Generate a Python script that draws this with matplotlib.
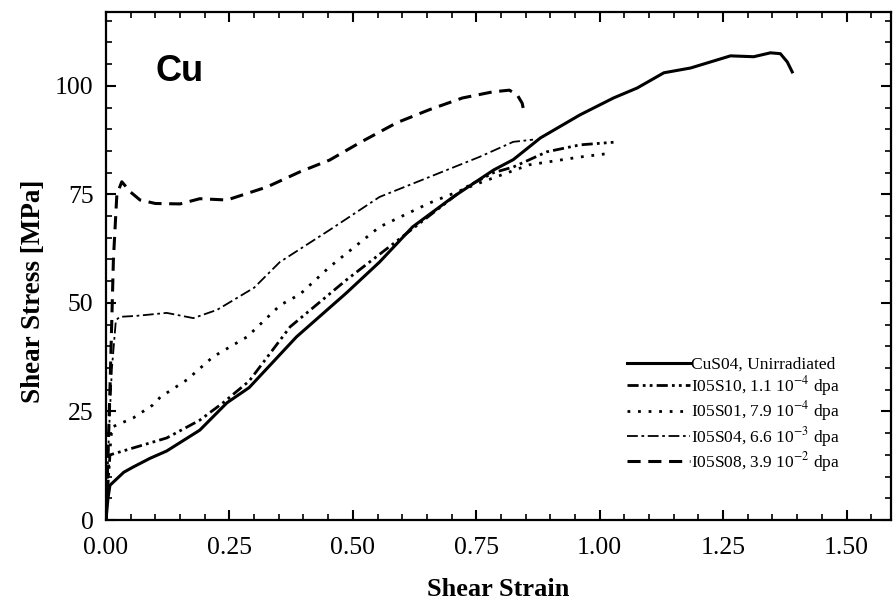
import numpy as np
import matplotlib
matplotlib.use("Agg")
import matplotlib.pyplot as plt
from matplotlib.ticker import MultipleLocator, FormatStrFormatter

plt.rcParams['font.family'] = ['Liberation Serif', 'DejaVu Serif']
plt.rcParams['mathtext.fontset'] = 'stix'

# CuS04, unirradiated
x_cu = [0, 0.004, 0.008, 0.036, 0.055, 0.089, 0.123, 0.19, 0.245, 0.29, 0.386, 0.487,
        0.554, 0.621, 0.703, 0.785, 0.825, 0.88, 0.96, 1.028, 1.076, 1.13, 1.184,
        1.239, 1.265, 1.312, 1.346, 1.366, 1.38, 1.39]
y_cu = [0, 5, 8, 11, 12.2, 14.2, 15.9, 20.7, 27, 30.5, 42.2, 52.3,
        59.4, 67.5, 74.4, 80.6, 83, 88, 93.3, 97.2, 99.5, 103, 104.1,
        106, 106.9, 106.7, 107.6, 107.4, 105.5, 103.2]

# I05S10, 1.1e-4 dpa
x_s10 = [0, 0.005, 0.008, 0.055, 0.123, 0.19, 0.237, 0.29, 0.373, 0.487, 0.61,
         0.73, 0.785, 0.825, 0.893, 0.96, 1.028]
y_s10 = [0, 10, 15, 16.6, 18.9, 23, 27, 32, 44.5, 55.3, 66.1,
         76.7, 80, 81.3, 84.8, 86.4, 87]

# I05S01, 7.9e-4 dpa
x_s01 = [0, 0.005, 0.012, 0.055, 0.095, 0.11, 0.164, 0.217, 0.286, 0.353, 0.393,
         0.453, 0.554, 0.655, 0.756, 0.857, 0.96, 1.01]
y_s01 = [0, 12, 21.4, 23.5, 26.5, 28.3, 32.3, 37.6, 42.2, 49.5, 52,
         58.3, 67.5, 73, 77.6, 81.8, 83.6, 84.3]

# I05S04, 6.6e-3 dpa
x_s04 = [0, 0.006, 0.012, 0.02, 0.028, 0.06, 0.123, 0.177, 0.225, 0.30, 0.352,
         0.453, 0.554, 0.655, 0.756, 0.825, 0.865]
y_s04 = [0, 20, 35, 46, 46.8, 47, 47.7, 46.5, 48.4, 53.5, 59.4,
         66.8, 74.4, 79, 83.6, 87.1, 87.6]

# I05S08, 3.9e-2 dpa
x_s08 = [0, 0.008, 0.015, 0.022, 0.032, 0.05, 0.069, 0.10, 0.15, 0.19, 0.245,
         0.326, 0.393, 0.453, 0.514, 0.589, 0.655, 0.722, 0.783, 0.817, 0.833,
         0.843, 0.847]
y_s08 = [0, 30, 60, 75, 77.9, 75.5, 73.7, 72.9, 72.8, 74, 73.7,
         76.7, 80.2, 82.9, 86.9, 91.5, 94.5, 97.2, 98.6, 99, 97.9,
         96, 93.8]

labels = ["CuS04, Unirradiated",
          "I05S10, 1.1 10$^{-4}$ dpa",
          "I05S01, 7.9 10$^{-4}$ dpa",
          "I05S04, 6.6 10$^{-3}$ dpa",
          "I05S08, 3.9 10$^{-2}$ dpa"]

fig = plt.figure(figsize=(8.93, 6.0), dpi=100)
ax = fig.add_axes([0.1187, 0.1333, 0.879, 0.8467])

ax.plot(x_cu, y_cu, color='black', lw=2.2, ls='-', label=labels[0])
ax.plot(x_s10, y_s10, color='black', lw=2.0, ls=(0, (4, 1.5, 1, 1.5, 1, 1.5)), label=labels[1])
ax.plot(x_s01, y_s01, color='black', lw=2.0, ls=(0, (1, 2.8)), label=labels[2])
ax.plot(x_s04, y_s04, color='black', lw=1.3, ls=(0, (6, 2, 1.5, 2)), label=labels[3])
ax.plot(x_s08, y_s08, color='black', lw=2.2, ls=(0, (4.3, 2.5)), label=labels[4])

ax.set_xlim(0, 1.59)
ax.set_ylim(0, 117)
ax.xaxis.set_major_locator(MultipleLocator(0.25))
ax.xaxis.set_minor_locator(MultipleLocator(0.05))
ax.xaxis.set_major_formatter(FormatStrFormatter('%.2f'))
ax.yaxis.set_major_locator(MultipleLocator(25))
ax.yaxis.set_minor_locator(MultipleLocator(5))

ax.tick_params(which='both', direction='in', top=True, right=True, labelsize=18.5)
ax.tick_params(which='major', length=7, width=1.5)
ax.tick_params(which='minor', length=4, width=1.2)
ax.tick_params(axis='x', which='major', pad=12)
ax.tick_params(axis='y', which='major', pad=9)
for s in ax.spines.values():
    s.set_linewidth(1.6)

ax.set_xlabel('Shear Strain', fontsize=19, fontweight='bold')
ax.xaxis.set_label_coords(0.5, -0.115)
ax.set_ylabel('Shear Stress [MPa]', fontsize=19.5, fontweight='bold')
ax.yaxis.set_label_coords(-0.076, 0.45)

ax.text(0.10, 103.2, 'Cu', family='Liberation Sans', fontsize=26,
        fontweight='bold', va='center', ha='left')

leg = ax.legend(loc='upper left', bbox_to_anchor=(0.655, 0.335), frameon=False,
                fontsize=12.5, handlelength=3.6, handletextpad=0.1,
                labelspacing=0.07, borderaxespad=0)

fig.savefig('out.png', dpi=100)
